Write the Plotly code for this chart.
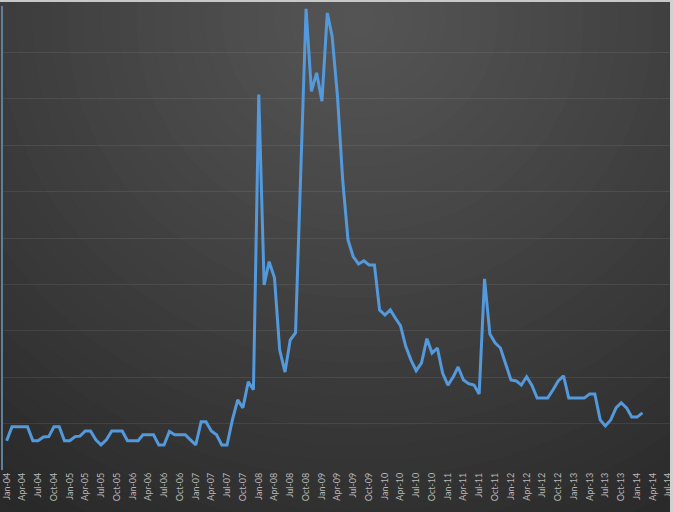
import plotly.graph_objects as go
import pandas as pd

start_month = "2004-01-01"
n_months = 122
values = [
    0.63, 0.93, 0.93, 0.93, 0.93, 0.63, 0.63, 0.71, 0.72, 0.93,
    0.93, 0.63, 0.63, 0.72, 0.73, 0.84, 0.84, 0.65, 0.54, 0.65,
    0.84, 0.84, 0.84, 0.63, 0.63, 0.63, 0.76, 0.76, 0.76, 0.54,
    0.54, 0.83, 0.76, 0.76, 0.76, 0.65, 0.54, 1.04, 1.04, 0.84,
    0.76, 0.54, 0.54, 1.08, 1.51, 1.34, 1.90, 1.73, 8.09, 3.99,
    4.49, 4.14, 2.59, 2.11, 2.80, 2.96, 6.36, 9.94, 8.16, 8.56,
    7.95, 9.85, 9.35, 8.05, 6.26, 4.96, 4.60, 4.44, 4.51, 4.42,
    4.42, 3.45, 3.34, 3.45, 3.28, 3.11, 2.67, 2.37, 2.14, 2.31,
    2.83, 2.52, 2.63, 2.09, 1.83, 2.01, 2.22, 1.94, 1.86, 1.83,
    1.64, 4.12, 2.93, 2.74, 2.63, 2.27, 1.94, 1.92, 1.83, 2.01,
    1.83, 1.55, 1.55, 1.55, 1.73, 1.92, 2.03, 1.55, 1.55, 1.55,
    1.55, 1.64, 1.64, 1.08, 0.95, 1.08, 1.34, 1.45, 1.34, 1.14,
    1.14, 1.23,
]
dates = pd.date_range(start_month, periods=n_months, freq="MS")

W, H = 673, 512
ml, mr, mt, mb = 3, 0, 6, 42

fig = go.Figure()
fig.add_trace(go.Scatter(
    x=dates, y=values, mode="lines",
    line=dict(color="#5399dc", width=3),
    hoverinfo="skip", showlegend=False,
))

# radial background gradient built from stacked ellipses (pixel -> paper coords)
pw, ph = W - ml - mr, H - mt - mb
def px2paper_x(px):
    return (px - ml) / pw
def px2paper_y(py):
    return (H - mb - py) / ph

shapes = []
cx, cy = 360, 20
R = 620
steps = 36
c_in, c_out = 0x55, 0x29
for k in range(steps, 0, -1):
    d = k / steps
    r = R * d
    t = min(1.0, d ** 1.1)
    c = int(round(c_in - (c_in - c_out) * t))
    col = f"rgb({c},{c},{c})"
    shapes.append(dict(
        type="circle", xref="paper", yref="paper", layer="below",
        x0=px2paper_x(cx - r), x1=px2paper_x(cx + r),
        y0=px2paper_y(cy + r * 0.95), y1=px2paper_y(cy - r * 0.95),
        fillcolor=col, line=dict(width=0),
    ))
# light frame on top and right edges
shapes.append(dict(type="line", xref="paper", yref="paper",
                   x0=px2paper_x(0), x1=px2paper_x(W), y0=px2paper_y(1), y1=px2paper_y(1),
                   line=dict(color="#c8c8c8", width=2)))
shapes.append(dict(type="line", xref="paper", yref="paper",
                   x0=px2paper_x(671.5), x1=px2paper_x(671.5), y0=px2paper_y(0), y1=px2paper_y(H),
                   line=dict(color="#d0d0d0", width=3)))

fig.update_layout(
    width=W, height=H,
    margin=dict(l=ml, r=mr, t=mt, b=mb, pad=0),
    paper_bgcolor="#2a2a2a",
    plot_bgcolor="rgba(0,0,0,0)",
    shapes=shapes,
    xaxis=dict(
        type="date",
        range=["2003-12-11", "2014-07-28"],
        tickformat="%b-%y", dtick="M3", tick0="2004-01-01",
        tickangle=-90,
        ticklabeloverflow="allow",
        tickfont=dict(family="Lato, Open Sans, sans-serif", size=9, color="#b8b8b8"),
        showgrid=False, zeroline=False, showline=False, ticks="",
    ),
    yaxis=dict(
        range=[0, 10], dtick=1,
        showticklabels=False, ticks="",
        showgrid=True, gridcolor="rgba(255,255,255,0.08)", gridwidth=1,
        zeroline=False,
        showline=True, linecolor="#5f7f9f", linewidth=2,
    ),
)

fig.write_html("out.html")
